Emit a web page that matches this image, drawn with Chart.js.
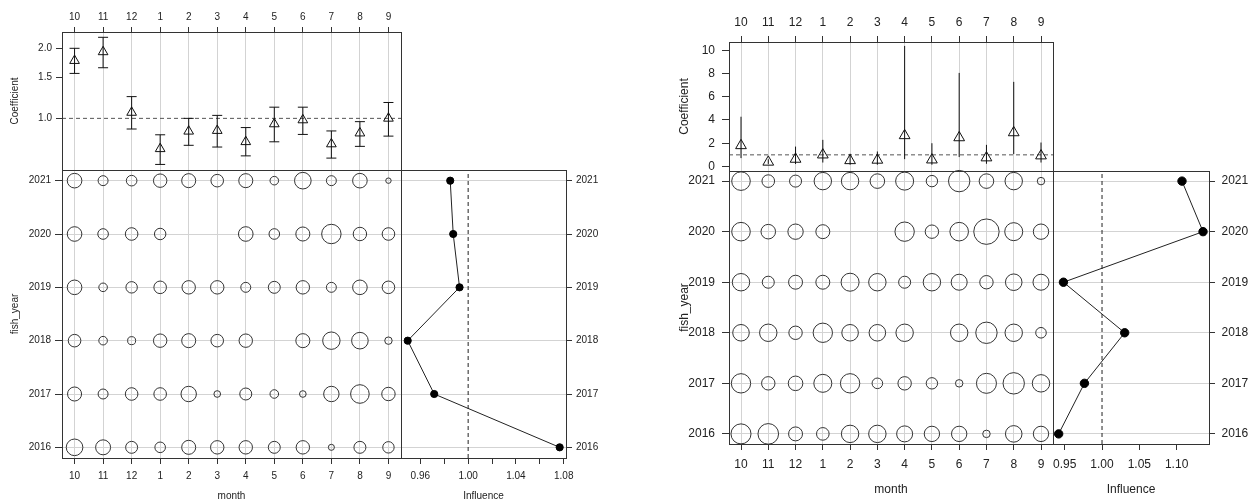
<!DOCTYPE html>
<html>
<head>
<meta charset="utf-8">
<title>CDI plots: month effect</title>
<script src="https://cdn.jsdelivr.net/npm/chart.js@4.4.1/dist/chart.umd.min.js"></script>
<style>
  html, body { margin: 0; padding: 0; background: #ffffff; }
  #stage { position: relative; width: 1252px; height: 503px; overflow: hidden; background: #ffffff; }
  #stage canvas { position: absolute; left: 0; top: 0; }
</style>
</head>
<body>
<div id="stage"></div>
<script>
// ---- categories ----
const months = ['10', '11', '12', '1', '2', '3', '4', '5', '6', '7', '8', '9'];
const years = ['2016', '2017', '2018', '2019', '2020', '2021'];

// ---- model A (left): month coefficients with confidence limits ----
const coefA      = [1.77, 1.93, 1.06, 0.74, 0.88, 0.886, 0.793, 0.946, 0.984, 0.776, 0.864, 1.00];
const coefLowerA = [1.56, 1.65, 0.90, 0.634, 0.766, 0.753, 0.69, 0.793, 0.853, 0.675, 0.758, 0.839];
const coefUpperA = [2.00, 2.23, 1.24, 0.85, 1.00, 1.03, 0.913, 1.117, 1.117, 0.883, 0.968, 1.17];

// percentage of each year's records falling in each month (rows 2016..2021)
const shareA = [
  [15.0, 12.2, 7.8, 6.1, 10.7, 9.8, 9.8, 7.8, 9.8, 2.0, 7.8, 7.1],
  [10.7, 5.4, 8.6, 8.6, 12.9, 2.4, 7.8, 4.0, 2.4, 12.9, 18.8, 9.8],
  [8.6, 4.0, 3.5, 9.8, 10.7, 8.6, 9.8, null, 10.7, 16.5, 15.0, 3.0],
  [11.6, 4.0, 7.1, 8.6, 9.8, 9.8, 5.4, 7.8, 9.8, 5.4, 11.6, 8.6],
  [11.6, 6.1, 8.6, 7.1, null, null, 11.6, 6.1, 10.7, 20.5, 9.8, 8.6],
  [11.6, 5.4, 6.1, 9.8, 10.7, 8.6, 10.7, 4.0, 15.0, 5.4, 11.6, 1.6]
];
// influence of month on each year's index (2016..2021)
const influenceA = [1.0766, 0.9716, 0.9494, 0.9928, 0.9875, 0.985];

// ---- model B (right) ----
const coefB      = [1.80, 0.38, 0.63, 1.00, 0.51, 0.55, 2.66, 0.57, 2.48, 0.75, 2.91, 0.92];
const coefLowerB = [0.72, 0.22, 0.21, 0.34, 0.15, 0.15, 0.63, 0.15, 0.81, 0.23, 1.06, 0.34];
const coefUpperB = [4.28, 0.62, 1.71, 2.29, 1.09, 1.29, 10.37, 2.00, 8.05, 1.86, 7.28, 2.06];

const shareB = [
  [13.6, 14.4, 6.6, 5.4, 10.3, 10.3, 8.7, 8.0, 8.0, 1.9, 9.3, 8.0],
  [12.7, 6.1, 7.2, 11.0, 12.7, 3.8, 6.1, 4.4, 1.9, 13.6, 15.5, 10.3],
  [9.3, 10.3, 6.1, 12.7, 9.3, 9.3, 10.3, null, 10.3, 15.5, 10.3, 3.8],
  [10.3, 4.9, 6.6, 6.6, 11.0, 10.3, 4.9, 10.3, 8.7, 6.1, 9.3, 8.7],
  [11.7, 7.2, 8.0, 6.6, null, null, 12.7, 6.1, 11.7, 21.9, 11.0, 8.0],
  [11.7, 5.4, 4.9, 10.3, 10.3, 7.2, 11.0, 4.4, 15.5, 7.2, 10.3, 1.9]
];
const influenceB = [0.9419, 0.9764, 1.0304, 0.9483, 1.1354, 1.1072];

// ---- tick labels ----
const coefTicksA = [1.0, 1.5, 2.0];
const coefTickLabelsA = ['1.0', '1.5', '2.0'];
const coefTicksB = [0, 2, 4, 6, 8, 10];
const coefTickLabelsB = ['0', '2', '4', '6', '8', '10'];
const inflTicksA = [0.96, 0.98, 1.00, 1.02, 1.04, 1.06, 1.08];
const inflTickLabelsA = ['0.96', '', '1.00', '', '1.04', '', '1.08'];
const inflTicksB = [0.95, 1.00, 1.05, 1.10];
const inflTickLabelsB = ['0.95', '1.00', '1.05', '1.10'];

// ---------------------------------------------------------------------------
const W = 1252, H = 503;
const stage = document.getElementById('stage');
Chart.defaults.font.family = "'Liberation Sans', Arial, Helvetica, sans-serif";
Chart.defaults.color = '#222';

const monthIdx = months.map((m, i) => i);
const yearIdx = years.map((y, i) => i);
const monthRange = { min: -0.44, max: months.length - 1 + 0.44 };
const yearRange = { min: -0.2, max: years.length - 1 + 0.2 };

// box around each panel's plotting region
const framePlugin = {
  id: 'frame',
  afterDatasetsDraw(chart, args, opts) {
    const a = chart.chartArea, ctx = chart.ctx;
    ctx.save();
    ctx.strokeStyle = opts.color || '#333';
    ctx.lineWidth = 1;
    ctx.strokeRect(Math.round(a.left) + 0.5, Math.round(a.top) + 0.5,
                   Math.round(a.right - a.left), Math.round(a.bottom - a.top));
    ctx.restore();
  }
};

function axis(o) {
  return {
    type: o.type || 'linear',
    position: o.position,
    min: o.min,
    max: o.max,
    afterBuildTicks: s => { s.ticks = o.values.map(v => ({ value: v })); },
    afterFit: s => {
      if (s.isHorizontal()) s.height = o.size; else s.width = o.size;
      s.paddingLeft = s.paddingRight = s.paddingTop = s.paddingBottom = 0;
    },
    border: { display: false },
    grid: {
      display: true,
      drawOnChartArea: !!o.grid,
      color: '#d3d3d3',
      lineWidth: 1,
      drawTicks: true,
      tickLength: o.tickLen,
      tickColor: '#333',
      tickWidth: 1
    },
    ticks: {
      autoSkip: false, maxRotation: 0, minRotation: 0,
      padding: o.pad,
      color: '#222',
      font: { size: o.fontSize },
      callback: (v, i) => o.labels[i]
    },
    title: o.title ? {
      display: true, text: o.title, color: '#222',
      font: { size: o.fontSize },
      padding: o.titlePad
    } : { display: false }
  };
}

function panel(plot, xo, yo, datasets) {
  const canvas = document.createElement('canvas');
  canvas.width = W; canvas.height = H;
  canvas.style.width = W + 'px'; canvas.style.height = H + 'px';
  stage.appendChild(canvas);
  const pad = { left: plot.l, right: W - plot.r, top: plot.t, bottom: H - plot.b };
  pad[xo.position] -= xo.size;
  pad[yo.position] -= yo.size;
  return new Chart(canvas, {
    type: 'scatter',
    data: { datasets },
    options: {
      responsive: false,
      animation: false,
      events: [],
      layout: { padding: pad },
      scales: { x: axis(xo), y: axis(yo) },
      plugins: { legend: { display: false }, tooltip: { enabled: false }, frame: { color: '#333' } }
    },
    plugins: [framePlugin]
  });
}

function errorBars(lo, hi) {
  const pts = [];
  lo.forEach((v, i) => { pts.push({ x: i, y: v }, { x: i, y: hi[i] }, { x: i, y: null }); });
  return pts;
}
function bubbles(shares, k) {
  const pts = [];
  shares.forEach((row, yi) => row.forEach((p, mi) => {
    if (p != null) pts.push({ x: mi, y: yi, r: k * Math.sqrt(p) });
  }));
  return pts;
}

function cdi(s) {
  // coefficient panel
  panel(s.top,
    Object.assign({ position: 'top', values: monthIdx, labels: months, grid: true }, monthRange, s.topX),
    Object.assign({ position: 'left', grid: false, title: 'Coefficient' }, s.topY),
    [
      { type: 'line', data: [{ x: monthRange.min, y: 1 }, { x: monthRange.max, y: 1 }],
        borderColor: '#555', borderWidth: 1, borderDash: [4, 3], pointRadius: 0, order: 3 },
      { type: 'line', data: errorBars(s.lower, s.upper), spanGaps: false,
        borderColor: '#111', borderWidth: 1, pointStyle: 'line', pointRadius: s.capR,
        pointBorderColor: '#111', pointBorderWidth: 1, order: 2 },
      { data: s.coef.map((c, i) => ({ x: i, y: c })), pointStyle: 'triangle',
        pointRadius: s.triR, borderColor: '#111', backgroundColor: 'rgba(0,0,0,0)',
        borderWidth: 1, order: 1 }
    ]);
  // distribution panel
  panel(s.bub,
    Object.assign({ position: 'bottom', values: monthIdx, labels: months, grid: true, title: 'month' }, monthRange, s.bubX),
    Object.assign({ position: 'left', values: yearIdx, labels: years, grid: true, title: 'fish_year' }, yearRange, s.bubY),
    [
      { type: 'bubble', data: bubbles(s.share, s.k), borderColor: '#333', borderWidth: 1,
        backgroundColor: 'rgba(0,0,0,0)', clip: false }
    ]);
  // influence panel
  panel(s.inf,
    Object.assign({ position: 'bottom', grid: false, title: 'Influence' }, s.infX),
    Object.assign({ position: 'right', values: yearIdx, labels: years, grid: true }, yearRange, s.infY),
    [
      { type: 'line', data: [{ x: 1, y: yearRange.min }, { x: 1, y: yearRange.max }],
        borderColor: '#222', borderWidth: 1, borderDash: [4, 3], pointRadius: 0 },
      { data: s.influence.map((v, i) => ({ x: v, y: i })), showLine: true,
        borderColor: '#222', borderWidth: 1, pointRadius: s.dotR,
        pointBackgroundColor: '#000', pointBorderColor: '#000', clip: false }
    ]);
}

// left figure
cdi({
  coef: coefA, lower: coefLowerA, upper: coefUpperA, share: shareA, influence: influenceA,
  k: 2.145, triR: 5.6, capR: 5, dotR: 3.6,
  top: { l: 62, t: 32, r: 401, b: 170 },
  bub: { l: 62, t: 170, r: 401, b: 458 },
  inf: { l: 401, t: 170, r: 566, b: 458 },
  topX: { size: 32, tickLen: 5, pad: 4, fontSize: 10 },
  topY: { type: 'logarithmic', min: 0.604, max: 2.35, values: coefTicksA, labels: coefTickLabelsA,
          size: 62, tickLen: 6, pad: 4, fontSize: 10, titlePad: { top: 9, bottom: 0 } },
  bubX: { size: 45, tickLen: 6, pad: 6, fontSize: 10, titlePad: { top: 0, bottom: 1 } },
  bubY: { size: 62, tickLen: 7, pad: 4, fontSize: 10, titlePad: { top: 9.5, bottom: 0 } },
  infX: { min: 0.9438, max: 1.0819, values: inflTicksA, labels: inflTickLabelsA,
          size: 45, tickLen: 6, pad: 6, fontSize: 10, titlePad: { top: 0, bottom: 1 } },
  infY: { size: 60, tickLen: 6, pad: 4, fontSize: 10 }
});

// right figure
cdi({
  coef: coefB, lower: coefLowerB, upper: coefUpperB, share: shareB, influence: influenceB,
  k: 2.716, triR: 6.2, capR: 0, dotR: 4.2,
  top: { l: 729, t: 42, r: 1053, b: 171 },
  bub: { l: 729, t: 171, r: 1053, b: 444 },
  inf: { l: 1053, t: 171, r: 1209, b: 444 },
  topX: { size: 42, tickLen: 6, pad: 6.5, fontSize: 12 },
  topY: { min: -0.39, max: 10.71, values: coefTicksB, labels: coefTickLabelsB,
          size: 57, tickLen: 7, pad: 7, fontSize: 12, titlePad: { top: 5.3, bottom: 0 } },
  bubX: { size: 59, tickLen: 6, pad: 7, fontSize: 12, titlePad: { top: 0, bottom: 6.5 } },
  bubY: { size: 57, tickLen: 7, pad: 7, fontSize: 12, titlePad: { top: 5, bottom: 0 } },
  infX: { min: 0.9343, max: 1.1434, values: inflTicksB, labels: inflTickLabelsB,
          size: 59, tickLen: 6, pad: 7, fontSize: 12, titlePad: { top: 0, bottom: 6 } },
  infY: { size: 43, tickLen: 6, pad: 6.5, fontSize: 12 }
});
</script>
</body>
</html>
